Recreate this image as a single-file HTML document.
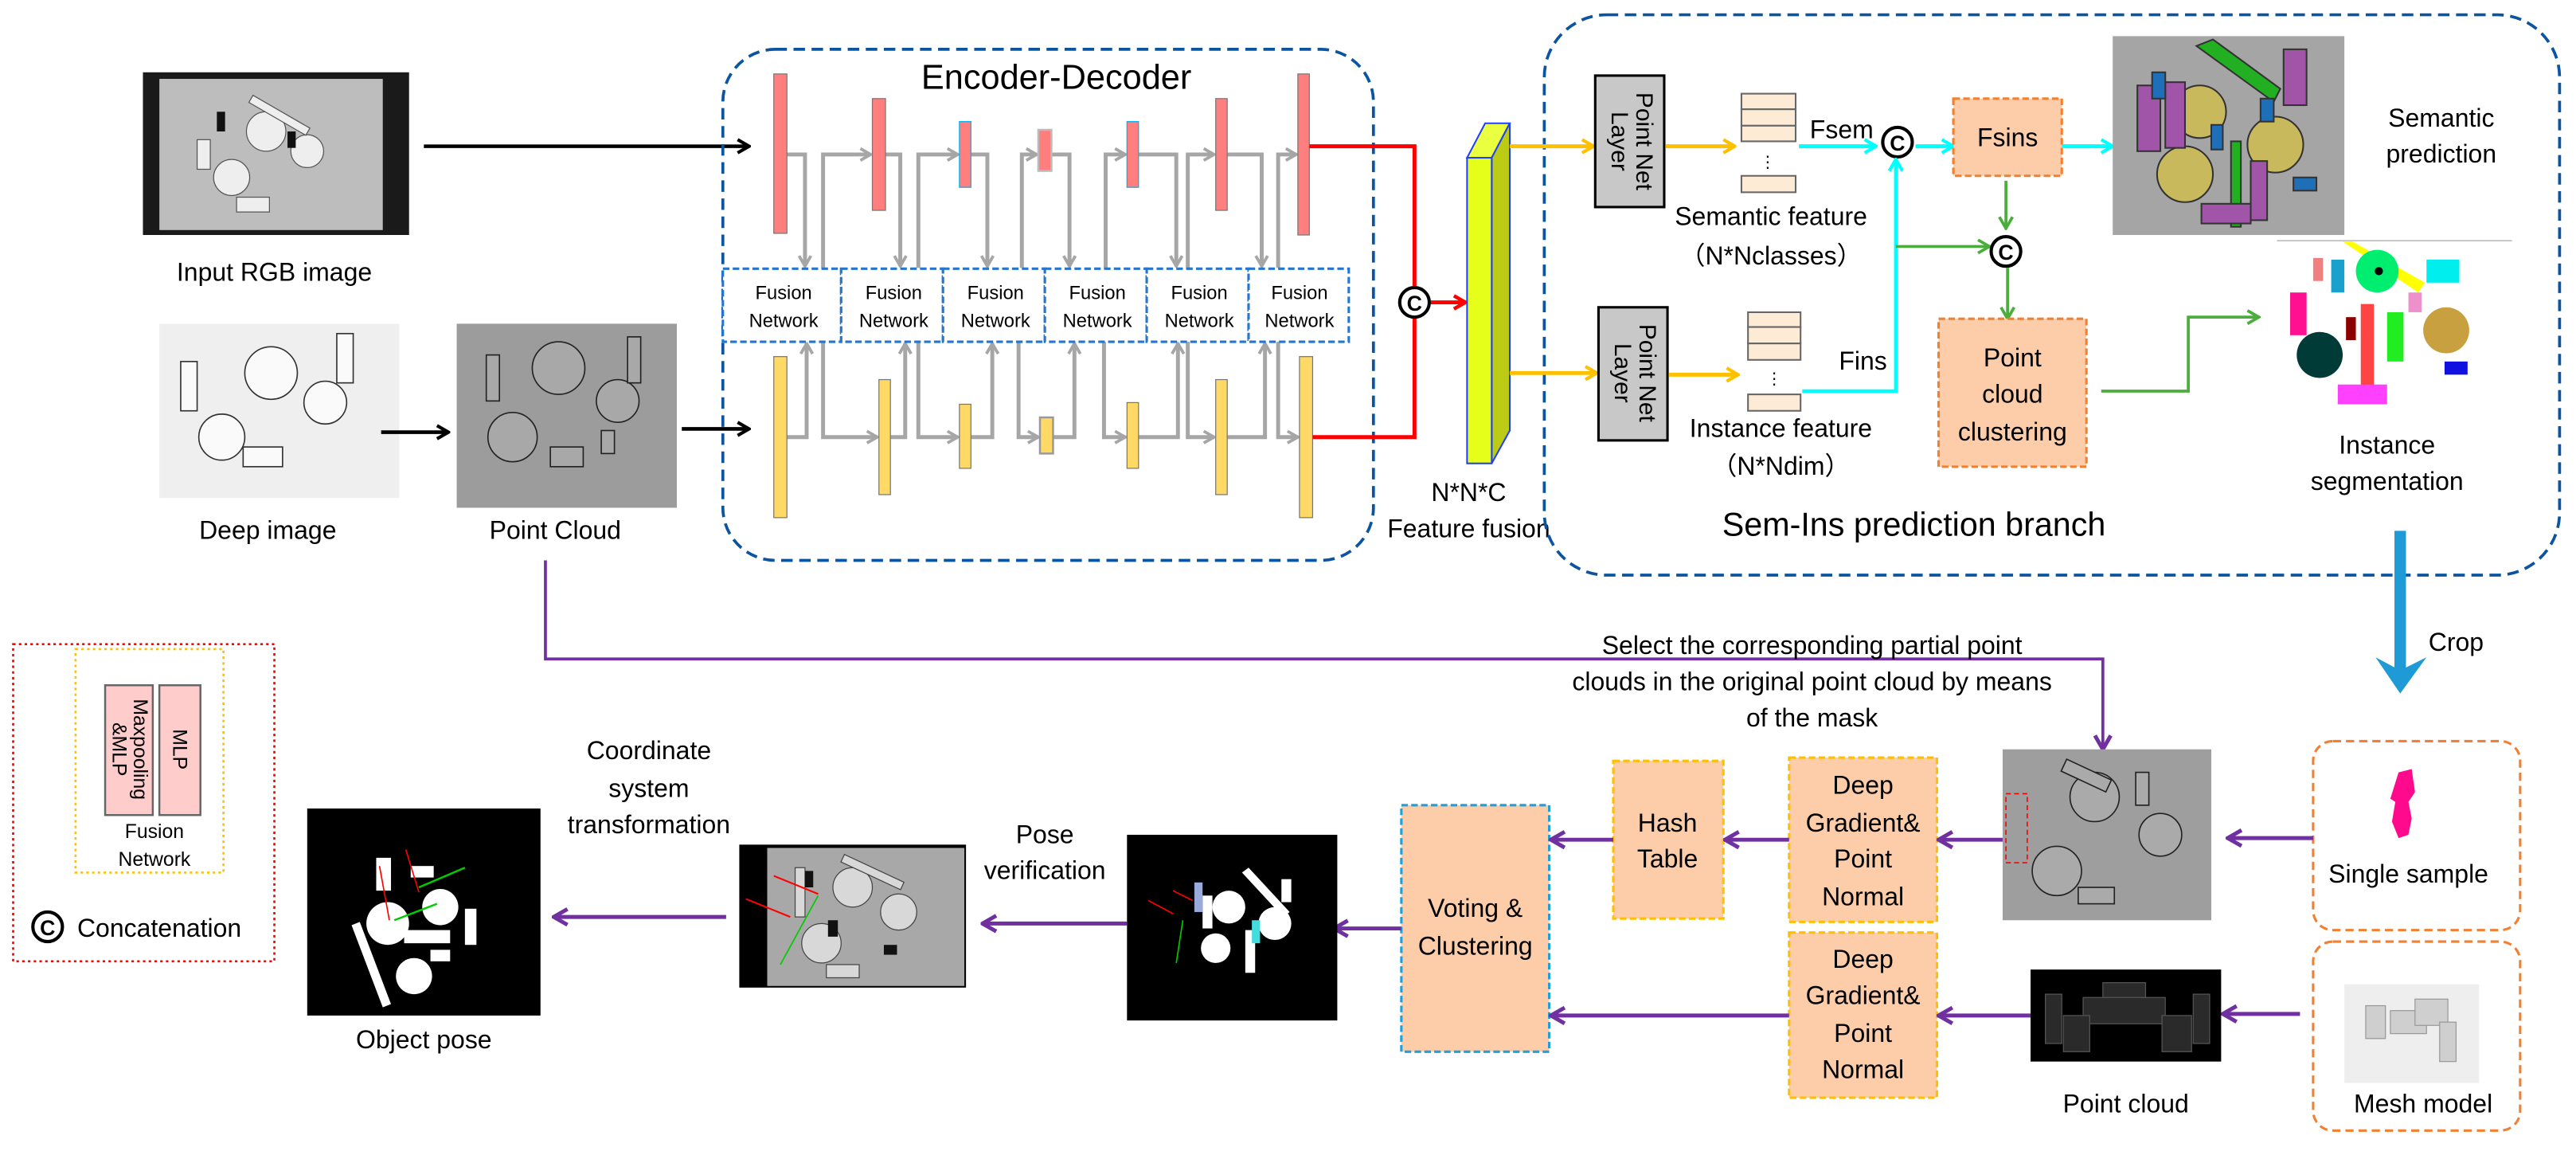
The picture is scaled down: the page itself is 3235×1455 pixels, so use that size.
<!DOCTYPE html>
<html><head><meta charset="utf-8"><style>
html,body{margin:0;padding:0;background:#fff;}
svg{display:block;}
text{font-family:"Liberation Sans Narrow","Liberation Sans",sans-serif;fill:#000;}
.t{font-size:15.5px;text-anchor:middle;}
.f{font-size:11.5px;text-anchor:middle;}
.w{font-family:"Liberation Sans",sans-serif;}
</style></head><body>
<svg width="3235" height="1455" viewBox="0 0 1568 705.3" preserveAspectRatio="none" xmlns="http://www.w3.org/2000/svg">
<defs>
<marker id="ak" viewBox="0 0 10 10" refX="9" refY="5" markerWidth="10" markerHeight="10" markerUnits="userSpaceOnUse" orient="auto"><polyline points="2,1 9,5 2,9" fill="none" stroke="#000" stroke-width="2"/></marker>
<marker id="ag" viewBox="0 0 10 10" refX="9" refY="5" markerWidth="9" markerHeight="9" markerUnits="userSpaceOnUse" orient="auto"><polyline points="2,1 9,5 2,9" fill="none" stroke="#a6a6a6" stroke-width="2"/></marker>
<marker id="ar" viewBox="0 0 10 10" refX="9" refY="5" markerWidth="10" markerHeight="10" markerUnits="userSpaceOnUse" orient="auto"><polyline points="2,1 9,5 2,9" fill="none" stroke="#f00" stroke-width="2.2"/></marker>
<marker id="ao" viewBox="0 0 10 10" refX="9" refY="5" markerWidth="10" markerHeight="10" markerUnits="userSpaceOnUse" orient="auto"><polyline points="2,1 9,5 2,9" fill="none" stroke="#ffc000" stroke-width="2"/></marker>
<marker id="ac" viewBox="0 0 10 10" refX="9" refY="5" markerWidth="10" markerHeight="10" markerUnits="userSpaceOnUse" orient="auto"><polyline points="2,1 9,5 2,9" fill="none" stroke="#00ffff" stroke-width="2"/></marker>
<marker id="agr" viewBox="0 0 10 10" refX="9" refY="5" markerWidth="10" markerHeight="10" markerUnits="userSpaceOnUse" orient="auto"><polyline points="2,1 9,5 2,9" fill="none" stroke="#4aad3c" stroke-width="1.8"/></marker>
<marker id="ap" viewBox="0 0 10 10" refX="9" refY="5" markerWidth="12" markerHeight="12" markerUnits="userSpaceOnUse" orient="auto"><polyline points="2,1 9,5 2,9" fill="none" stroke="#7030a0" stroke-width="2"/></marker>
</defs>

<!-- ===== Inputs ===== -->
<rect x="87" y="44" width="162" height="99" fill="#1a1a1a"/>
<rect x="97" y="48" width="136" height="92" fill="#bdbdbd"/>
<g fill="#eee" stroke="#555" stroke-width="0.6">
<circle cx="162" cy="80" r="12"/><circle cx="187" cy="92" r="10"/><circle cx="141" cy="108" r="11"/>
<rect x="120" y="85" width="8" height="18"/><rect x="144" y="120" width="20" height="9"/><rect x="154" y="58" width="40" height="5" transform="rotate(30 154 58)"/>
</g>
<rect x="132" y="68" width="5" height="12" fill="#111"/><rect x="175" y="80" width="5" height="10" fill="#111"/>
<line x1="258" y1="89" x2="456" y2="89" stroke="#000" stroke-width="2.2" marker-end="url(#ak)"/>
<text class="t" x="167" y="171">Input RGB image</text>

<rect x="97" y="197" width="146" height="106" fill="#efefef"/>
<g fill="#fafafa" stroke="#333" stroke-width="0.8">
<circle cx="165" cy="227" r="16"/><circle cx="198" cy="245" r="13"/><circle cx="135" cy="266" r="14"/>
<rect x="110" y="220" width="10" height="30"/><rect x="148" y="272" width="24" height="12"/><rect x="205" y="203" width="10" height="30"/>
</g>
<line x1="232" y1="263" x2="273" y2="263" stroke="#000" stroke-width="2.2" marker-end="url(#ak)"/>
<text class="t" x="163" y="328">Deep image</text>

<rect x="278" y="197" width="134" height="112" fill="#9c9c9c"/>
<g fill="#a8a8a8" stroke="#222" stroke-width="0.8">
<circle cx="340" cy="224" r="16"/><circle cx="376" cy="244" r="13"/><circle cx="312" cy="266" r="15"/>
<rect x="296" y="216" width="8" height="28"/><rect x="335" y="272" width="20" height="12"/><rect x="382" y="205" width="8" height="28"/><rect x="366" y="262" width="8" height="14"/>
</g>
<line x1="415" y1="261" x2="456" y2="261" stroke="#000" stroke-width="2.2" marker-end="url(#ak)"/>
<text class="t" x="338" y="328">Point Cloud</text>

<!-- ===== Encoder-Decoder ===== -->
<rect x="440" y="30" width="396" height="311" rx="32" ry="32" fill="none" stroke="#0b55a0" stroke-width="1.8" stroke-dasharray="7,4"/>
<text x="643" y="54" style="font-size:21px;text-anchor:middle">Encoder-Decoder</text>

<g fill="none" stroke="#a6a6a6" stroke-width="2.4">
<polyline points="479,94 490,94 490,162" marker-end="url(#ag)"/>
<polyline points="501,163 501,94 530,94" marker-end="url(#ag)"/>
<polyline points="539,94 548,94 548,162" marker-end="url(#ag)"/>
<polyline points="559,163 559,94 583,94" marker-end="url(#ag)"/>
<polyline points="591,94 601,94 601,162" marker-end="url(#ag)"/>
<polyline points="622,163 622,94 631,94" marker-end="url(#ag)"/>
<polyline points="640,94 651,94 651,162" marker-end="url(#ag)"/>
<polyline points="673,163 673,94 685,94" marker-end="url(#ag)"/>
<polyline points="693,94 716,94 716,162" marker-end="url(#ag)"/>
<polyline points="723,163 723,94 739,94" marker-end="url(#ag)"/>
<polyline points="747,94 768,94 768,162" marker-end="url(#ag)"/>
<polyline points="778,163 778,94 789,94" marker-end="url(#ag)"/>
<polyline points="479,266 491,266 491,209" marker-end="url(#ag)"/>
<polyline points="501,208 501,266 534,266" marker-end="url(#ag)"/>
<polyline points="542,266 551,266 551,209" marker-end="url(#ag)"/>
<polyline points="559,208 559,266 583,266" marker-end="url(#ag)"/>
<polyline points="591,266 604,266 604,209" marker-end="url(#ag)"/>
<polyline points="620,208 620,266 632,266" marker-end="url(#ag)"/>
<polyline points="641,266 654,266 654,209" marker-end="url(#ag)"/>
<polyline points="672,208 672,266 685,266" marker-end="url(#ag)"/>
<polyline points="693,266 717,266 717,209" marker-end="url(#ag)"/>
<polyline points="723,208 723,266 739,266" marker-end="url(#ag)"/>
<polyline points="747,266 770,266 770,209" marker-end="url(#ag)"/>
<polyline points="778,208 778,266 790,266" marker-end="url(#ag)"/>
</g>

<g fill="#ff7f7f" stroke="#777" stroke-width="0.6">
<rect x="471" y="45" width="8" height="97"/><rect x="531" y="60" width="8" height="68"/>
<rect x="584" y="74" width="7" height="40" stroke="#00b0f0"/><rect x="632" y="79" width="8" height="25" stroke="#bbb" stroke-width="1.2"/>
<rect x="686" y="74" width="7" height="40" stroke="#00b0f0"/><rect x="740" y="60" width="7" height="68"/><rect x="790" y="45" width="7" height="98"/>
</g>
<g fill="#ffd966" stroke="#777" stroke-width="0.6">
<rect x="471" y="217" width="8" height="98"/><rect x="535" y="231" width="7" height="70"/>
<rect x="584" y="246" width="7" height="39"/><rect x="633" y="254" width="8" height="22" stroke="#999" stroke-width="1.2"/>
<rect x="686" y="245" width="7" height="40"/><rect x="740" y="231" width="7" height="70"/><rect x="791" y="217" width="8" height="98"/>
</g>

<g fill="#fff" stroke="#2676d0" stroke-width="1.5" stroke-dasharray="4,2">
<rect x="440" y="163.5" width="72" height="44.5"/><rect x="512" y="163.5" width="62" height="44.5"/>
<rect x="574" y="163.5" width="62" height="44.5"/><rect x="636" y="163.5" width="62" height="44.5"/>
<rect x="698" y="163.5" width="62" height="44.5"/><rect x="760" y="163.5" width="61" height="44.5"/>
</g>
<text class="f" x="477" y="182">Fusion</text><text class="f" x="477" y="199">Network</text>
<text class="f" x="544" y="182">Fusion</text><text class="f" x="544" y="199">Network</text>
<text class="f" x="606" y="182">Fusion</text><text class="f" x="606" y="199">Network</text>
<text class="f" x="668" y="182">Fusion</text><text class="f" x="668" y="199">Network</text>
<text class="f" x="730" y="182">Fusion</text><text class="f" x="730" y="199">Network</text>
<text class="f" x="791" y="182">Fusion</text><text class="f" x="791" y="199">Network</text>

<polyline points="797,89 861,89 861,266 799,266" fill="none" stroke="#f00" stroke-width="2.4"/>
<circle cx="861" cy="184" r="9" fill="#fff" stroke="#000" stroke-width="2"/>
<text x="861" y="189" style="font-size:13px;text-anchor:middle;font-weight:bold" class="w">C</text>
<line x1="871" y1="184" x2="892" y2="184" stroke="#f00" stroke-width="2.4" marker-end="url(#ar)"/>

<polygon points="893,96 908,96 919,75 904,75" fill="#eaff40" stroke="#2040ff" stroke-width="1"/>
<polygon points="908,96 919,75 919,262 908,282" fill="#bccc14" stroke="#2040ff" stroke-width="1"/>
<rect x="893" y="96" width="15" height="186" fill="#e6ff1a" stroke="#2040ff" stroke-width="1"/>
<text class="t" x="894" y="305">N*N*C</text>
<text class="t" x="894" y="327">Feature fusion</text>

<!-- ===== Sem-Ins ===== -->
<rect x="940" y="9" width="618" height="341" rx="38" ry="38" fill="none" stroke="#0b55a0" stroke-width="1.8" stroke-dasharray="7,4"/>
<text x="1165" y="326" style="font-size:20px;text-anchor:middle">Sem-Ins prediction branch</text>

<line x1="919" y1="89" x2="970" y2="89" stroke="#ffc000" stroke-width="2.4" marker-end="url(#ao)"/>
<line x1="919" y1="227" x2="972" y2="227" stroke="#ffc000" stroke-width="2.4" marker-end="url(#ao)"/>
<rect x="971" y="46" width="42" height="80" fill="#c8c8c8" stroke="#000" stroke-width="1.5"/>
<rect x="973" y="187" width="42" height="81" fill="#c8c8c8" stroke="#000" stroke-width="1.5"/>
<g transform="translate(992,86) rotate(90)"><text class="w" x="0" y="-4" style="font-size:14.5px;text-anchor:middle">Point Net</text><text class="w" x="0" y="11" style="font-size:14.5px;text-anchor:middle">Layer</text></g>
<g transform="translate(994,227) rotate(90)"><text class="w" x="0" y="-4" style="font-size:14.5px;text-anchor:middle">Point Net</text><text class="w" x="0" y="11" style="font-size:14.5px;text-anchor:middle">Layer</text></g>
<line x1="1014" y1="89" x2="1056" y2="89" stroke="#ffc000" stroke-width="2.4" marker-end="url(#ao)"/>
<line x1="1016" y1="228" x2="1058" y2="228" stroke="#ffc000" stroke-width="2.4" marker-end="url(#ao)"/>

<g fill="#fdebd6" stroke="#666" stroke-width="1">
<rect x="1060" y="57" width="33" height="9.5"/><rect x="1060" y="66.5" width="33" height="10"/><rect x="1060" y="76.5" width="33" height="9.5"/><rect x="1060" y="107" width="33" height="10"/>
<rect x="1064" y="190" width="32" height="9"/><rect x="1064" y="199" width="32" height="10"/><rect x="1064" y="209" width="32" height="10"/><rect x="1064" y="240" width="32" height="10"/>
</g>
<text x="1076" y="102" style="font-size:10px;text-anchor:middle">⋮</text>
<text x="1080" y="234" style="font-size:10px;text-anchor:middle">⋮</text>
<text class="t" x="1078" y="137">Semantic feature</text>
<text class="t" x="1078" y="161">（N*Nclasses）</text>
<text class="t" x="1084" y="266">Instance feature</text>
<text class="t" x="1084" y="289">（N*Ndim）</text>

<text class="t" x="1121" y="84">Fsem</text>
<line x1="1095" y1="89" x2="1142" y2="89" stroke="#00ffff" stroke-width="2.4" marker-end="url(#ac)"/>
<circle cx="1155" cy="86.5" r="9" fill="#fff" stroke="#000" stroke-width="2"/>
<text x="1155" y="91.5" style="font-size:13px;text-anchor:middle;font-weight:bold" class="w">C</text>
<line x1="1166" y1="89" x2="1189" y2="89" stroke="#00ffff" stroke-width="2.4" marker-end="url(#ac)"/>
<polyline points="1097,238 1154,238 1154,97" fill="none" stroke="#00ffff" stroke-width="2.2" marker-end="url(#ac)"/>
<text class="t" x="1134" y="225">Fins</text>

<rect x="1189" y="60" width="66" height="47" fill="#fdcca8" stroke="#f28030" stroke-width="1.5" stroke-dasharray="4,2"/>
<text class="t" x="1222" y="89">Fsins</text>
<line x1="1255" y1="89" x2="1286" y2="89" stroke="#00ffff" stroke-width="2.4" marker-end="url(#ac)"/>

<line x1="1221" y1="110" x2="1221" y2="139" stroke="#4aad3c" stroke-width="1.8" marker-end="url(#agr)"/>
<line x1="1154" y1="150" x2="1211" y2="150" stroke="#4aad3c" stroke-width="1.8" marker-end="url(#agr)"/>
<circle cx="1221" cy="153" r="9" fill="#fff" stroke="#000" stroke-width="2"/>
<text x="1221" y="158" style="font-size:13px;text-anchor:middle;font-weight:bold" class="w">C</text>
<line x1="1222" y1="163" x2="1222" y2="194" stroke="#4aad3c" stroke-width="1.8" marker-end="url(#agr)"/>
<rect x="1180" y="194" width="90" height="90" fill="#fdcca8" stroke="#f28030" stroke-width="1.5" stroke-dasharray="4,2"/>
<text class="t" x="1225" y="223">Point</text><text class="t" x="1225" y="245">cloud</text><text class="t" x="1225" y="268">clustering</text>
<polyline points="1279,238 1332,238 1332,193 1375,193" fill="none" stroke="#4aad3c" stroke-width="1.8" marker-end="url(#agr)"/>

<rect x="1286" y="22" width="141" height="121" fill="#a5a5a5"/>
<g stroke="#333" stroke-width="1">
<circle cx="1339" cy="68" r="16" fill="#c8b95c"/><circle cx="1385" cy="88" r="17" fill="#c8b95c"/><circle cx="1330" cy="106" r="17" fill="#c8b95c"/>
<polygon points="1337,28 1347,24 1388,54 1384,62" fill="#22b022"/><rect x="1358" y="86" width="6" height="52" fill="#22b022"/>
<rect x="1301" y="52" width="14" height="40" fill="#a055a8"/><rect x="1318" y="50" width="12" height="40" fill="#a055a8"/><rect x="1370" y="98" width="10" height="36" fill="#a055a8"/>
<rect x="1390" y="30" width="14" height="34" fill="#a055a8"/><rect x="1340" y="124" width="30" height="12" fill="#a055a8"/>
<rect x="1310" y="44" width="8" height="16" fill="#1f6fb8"/><rect x="1376" y="60" width="8" height="14" fill="#1f6fb8"/><rect x="1396" y="108" width="14" height="8" fill="#1f6fb8"/><rect x="1346" y="76" width="7" height="15" fill="#1f6fb8"/>
</g>
<text class="t" x="1486" y="77">Semantic</text><text class="t" x="1486" y="99">prediction</text>

<line x1="1386" y1="146.5" x2="1529" y2="146.5" stroke="#bbb" stroke-width="0.8"/>
<polygon points="1426,147 1432,147 1476,172 1472,178" fill="#ffff00"/>
<circle cx="1447" cy="165" r="13" fill="#00ee70"/><circle cx="1448" cy="165" r="2.5" fill="#000"/>
<circle cx="1412" cy="216" r="14" fill="#003b38"/><circle cx="1489" cy="201" r="14" fill="#c9a040"/>
<rect x="1419" y="158" width="8" height="20" fill="#1aa0cc"/><rect x="1408" y="157" width="6" height="14" fill="#f08080"/>
<rect x="1394" y="178" width="10" height="26" fill="#ff1090"/><rect x="1428" y="193" width="6" height="14" fill="#8b0000"/>
<rect x="1437" y="185" width="8" height="55" fill="#ff4444"/><rect x="1453" y="190" width="10" height="30" fill="#20ee20"/>
<rect x="1477" y="158" width="20" height="14" fill="#00eeee"/><rect x="1466" y="178" width="8" height="12" fill="#ee90cc"/>
<rect x="1488" y="220" width="14" height="8" fill="#1010e0"/><rect x="1423" y="234" width="30" height="12" fill="#ff40ff"/>
<text class="t" x="1453" y="276">Instance</text><text class="t" x="1453" y="298">segmentation</text>

<line x1="1461" y1="323" x2="1461" y2="410" stroke="#1e9ad6" stroke-width="7"/>
<polygon points="1446,400 1461,422 1477,400 1461,408" fill="#1e9ad6"/>
<text class="t" x="1495" y="396">Crop</text>

<!-- ===== Bottom pipeline ===== -->
<polyline points="332,341 332,401 1280,401 1280,456" fill="none" stroke="#7030a0" stroke-width="1.8" marker-end="url(#ap)"/>
<text class="t" x="1103" y="398">Select the corresponding partial point</text>
<text class="t" x="1103" y="420">clouds in the original point cloud by means</text>
<text class="t" x="1103" y="442">of the mask</text>

<rect x="1219" y="456" width="127" height="104" fill="#9e9e9e"/>
<g fill="#aaa" stroke="#222" stroke-width="0.8">
<circle cx="1275" cy="485" r="15"/><circle cx="1315" cy="508" r="13"/><circle cx="1252" cy="530" r="15"/>
<rect x="1258" y="462" width="30" height="8" transform="rotate(25 1258 462)"/><rect x="1300" y="470" width="8" height="20"/><rect x="1265" y="540" width="22" height="10"/>
</g>
<rect x="1221" y="483" width="13" height="42" fill="none" stroke="#f00" stroke-width="0.8" stroke-dasharray="3,2"/>

<rect x="1408" y="451" width="126" height="115" rx="12" fill="none" stroke="#f28030" stroke-width="1.5" stroke-dasharray="5,3"/>
<polygon points="1460,470 1468,468 1470,482 1466,488 1468,498 1466,508 1460,510 1456,500 1458,488 1455,486" fill="#ff0a8c"/>
<text class="t" x="1466" y="537">Single sample</text>
<line x1="1408" y1="510" x2="1356" y2="510" stroke="#7030a0" stroke-width="2.4" marker-end="url(#ap)"/>

<rect x="1408" y="573" width="126" height="115" rx="12" fill="none" stroke="#f28030" stroke-width="1.5" stroke-dasharray="5,3"/>
<rect x="1427" y="599" width="82" height="60" fill="#eeeeee"/>
<g fill="#cfcfcf" stroke="#999" stroke-width="0.6">
<rect x="1440" y="612" width="12" height="20"/><rect x="1455" y="615" width="22" height="14"/><rect x="1470" y="608" width="20" height="16"/><rect x="1485" y="622" width="10" height="24"/>
</g>
<text class="t" x="1475" y="677">Mesh model</text>
<line x1="1400" y1="617" x2="1353" y2="617" stroke="#7030a0" stroke-width="2.4" marker-end="url(#ap)"/>

<rect x="1236" y="590" width="116" height="56" fill="#000"/>
<g fill="#2a2a2a" stroke="#555" stroke-width="0.6">
<rect x="1280" y="598" width="26" height="10"/><rect x="1268" y="607" width="50" height="16"/><rect x="1245" y="605" width="10" height="30"/><rect x="1256" y="618" width="16" height="22"/><rect x="1316" y="618" width="18" height="22"/><rect x="1335" y="605" width="10" height="30"/>
</g>
<text class="t" x="1294" y="677">Point cloud</text>

<rect x="1089" y="461" width="90" height="100" fill="#fdcca8" stroke="#ffc000" stroke-width="1.5" stroke-dasharray="4,2"/>
<text class="t" x="1134" y="483">Deep</text><text class="t" x="1134" y="506">Gradient&amp;</text><text class="t" x="1134" y="528">Point</text><text class="t" x="1134" y="551">Normal</text>
<line x1="1219" y1="511" x2="1180" y2="511" stroke="#7030a0" stroke-width="2.4" marker-end="url(#ap)"/>

<rect x="1089" y="567.5" width="90" height="100.5" fill="#fdcca8" stroke="#ffc000" stroke-width="1.5" stroke-dasharray="4,2"/>
<text class="t" x="1134" y="589">Deep</text><text class="t" x="1134" y="611">Gradient&amp;</text><text class="t" x="1134" y="634">Point</text><text class="t" x="1134" y="656">Normal</text>
<line x1="1236" y1="618" x2="1180" y2="618" stroke="#7030a0" stroke-width="2.4" marker-end="url(#ap)"/>

<rect x="982" y="463" width="67" height="96" fill="#fdcca8" stroke="#ffc000" stroke-width="1.5" stroke-dasharray="4,2"/>
<text class="t" x="1015" y="506">Hash</text><text class="t" x="1015" y="528">Table</text>
<line x1="1089" y1="511" x2="1050" y2="511" stroke="#7030a0" stroke-width="2.4" marker-end="url(#ap)"/>

<rect x="853" y="490" width="90" height="150" fill="#fdcca8" stroke="#1ea0dc" stroke-width="1.5" stroke-dasharray="4,2"/>
<text class="t" x="898" y="558">Voting &amp;</text><text class="t" x="898" y="581">Clustering</text>
<line x1="982" y1="511" x2="944" y2="511" stroke="#7030a0" stroke-width="2.4" marker-end="url(#ap)"/>
<line x1="1089" y1="618" x2="944" y2="618" stroke="#7030a0" stroke-width="2.4" marker-end="url(#ap)"/>
<line x1="853" y1="565" x2="812" y2="565" stroke="#7030a0" stroke-width="2.4" marker-end="url(#ap)"/>

<rect x="686" y="508" width="128" height="113" fill="#000"/>
<g fill="#fff">
<circle cx="748" cy="552" r="10"/><circle cx="776" cy="562" r="10"/><circle cx="740" cy="577" r="9"/>
<polygon points="756,531 760,528 785,555 781,558"/><rect x="758" y="566" width="6" height="26"/><rect x="732" y="545" width="6" height="20"/><rect x="780" y="535" width="6" height="14"/>
</g>
<rect x="727" y="537" width="5" height="18" fill="#9ad"/><rect x="762" y="560" width="5" height="14" fill="#4dd"/>
<line x1="699" y1="548" x2="714" y2="556" stroke="#f00" stroke-width="0.8"/><line x1="714" y1="542" x2="726" y2="548" stroke="#f00" stroke-width="0.8"/><line x1="716" y1="586" x2="720" y2="560" stroke="#0c0" stroke-width="0.8"/>

<text class="t" x="636" y="513">Pose</text><text class="t" x="636" y="535">verification</text>
<line x1="686" y1="562" x2="598" y2="562" stroke="#7030a0" stroke-width="2.4" marker-end="url(#ap)"/>

<rect x="450" y="514" width="138" height="87" fill="#000"/>
<rect x="467" y="516" width="120" height="84" fill="#a8a8a8"/>
<g fill="#d8d8d8" stroke="#444" stroke-width="0.6">
<circle cx="519" cy="540" r="12"/><circle cx="547" cy="555" r="11"/><circle cx="500" cy="574" r="12"/>
<rect x="514" y="520" width="40" height="5" transform="rotate(25 514 520)"/><rect x="484" y="528" width="6" height="30"/><rect x="503" y="587" width="20" height="8"/>
</g>
<rect x="490" y="530" width="5" height="10" fill="#111"/><rect x="504" y="560" width="6" height="10" fill="#111"/><rect x="538" y="575" width="8" height="6" fill="#111"/>
<line x1="471" y1="533" x2="498" y2="544" stroke="#f00" stroke-width="1"/><line x1="454" y1="547" x2="481" y2="558" stroke="#f00" stroke-width="1"/><line x1="475" y1="587" x2="498" y2="545" stroke="#0c0" stroke-width="0.8"/>

<text class="t" x="395" y="462">Coordinate</text><text class="t" x="395" y="485">system</text><text class="t" x="395" y="507">transformation</text>
<line x1="442" y1="558" x2="337" y2="558" stroke="#7030a0" stroke-width="2.4" marker-end="url(#ap)"/>

<rect x="187" y="492" width="142" height="126" fill="#000"/>
<g fill="#fff">
<circle cx="236" cy="562" r="13"/><circle cx="268" cy="552" r="11"/><circle cx="252" cy="594" r="11"/>
<polygon points="214,563 219,561 238,611 233,613"/><rect x="246" y="566" width="28" height="8"/><rect x="283" y="553" width="7" height="22"/><rect x="229" y="522" width="9" height="20"/><rect x="250" y="527" width="14" height="7"/><rect x="262" y="578" width="12" height="7"/>
</g>
<line x1="247" y1="517" x2="255" y2="543" stroke="#f00" stroke-width="0.8"/><line x1="231" y1="527" x2="237" y2="560" stroke="#f00" stroke-width="0.8"/>
<line x1="255" y1="540" x2="283" y2="528" stroke="#0c0" stroke-width="1.2"/><line x1="240" y1="560" x2="266" y2="550" stroke="#0c0" stroke-width="1.2"/>
<text class="t" x="258" y="638">Object pose</text>

<rect x="8" y="392" width="159" height="193" fill="none" stroke="#f00" stroke-width="1.3" stroke-dasharray="1.5,2"/>
<rect x="46" y="395" width="90" height="136" fill="none" stroke="#ffc000" stroke-width="1.3" stroke-dasharray="1.5,2"/>
<rect x="64" y="417" width="29" height="79" fill="#ffcccc" stroke="#666" stroke-width="1.2"/>
<rect x="97" y="417" width="25" height="79" fill="#ffcccc" stroke="#666" stroke-width="1.2"/>
<g transform="translate(78.5,456) rotate(90)"><text class="w" x="0" y="-3" style="font-size:12px;text-anchor:middle">Maxpooling</text><text class="w" x="0" y="10" style="font-size:12px;text-anchor:middle">&amp;MLP</text></g>
<g transform="translate(109.5,456) rotate(90)"><text class="w" x="0" y="4" style="font-size:12px;text-anchor:middle">MLP</text></g>
<text x="94" y="510" style="font-size:12px;text-anchor:middle">Fusion</text>
<text x="94" y="527" style="font-size:12px;text-anchor:middle">Network</text>
<circle cx="29" cy="564" r="9" fill="#fff" stroke="#000" stroke-width="2"/>
<text x="29" y="569" style="font-size:13px;text-anchor:middle;font-weight:bold" class="w">C</text>
<text x="47" y="570" style="font-size:15.5px">Concatenation</text>
</svg>
</body></html>
